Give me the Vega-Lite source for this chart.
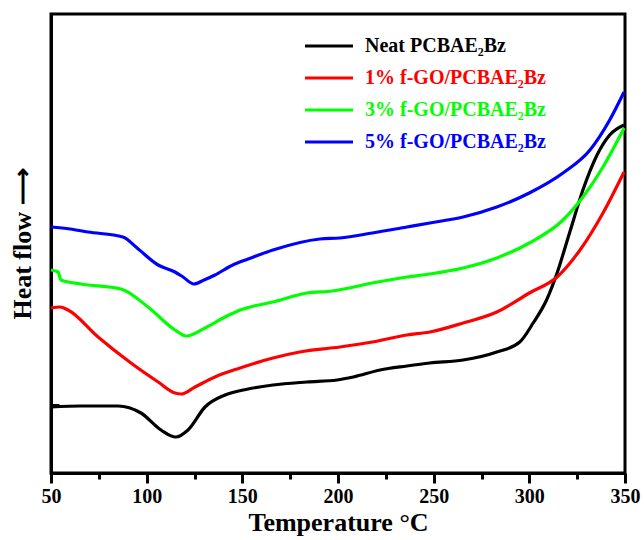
{
  "$schema": "https://vega.github.io/schema/vega-lite/v6.json",
  "autosize": "none",
  "padding": {"left": 51, "top": 14, "right": 19, "bottom": 67},
  "width": 574,
  "height": 459,
  "config": {
    "view": {"stroke": "black", "strokeWidth": 3},
    "font": "Liberation Serif"
  },
  "data": {
    "values": [
      {"s": "Neat PCBAE₂Bz", "T": 50, "v": 66},
      {"s": "Neat PCBAE₂Bz", "T": 65.7, "v": 67},
      {"s": "Neat PCBAE₂Bz", "T": 85, "v": 67},
      {"s": "Neat PCBAE₂Bz", "T": 97, "v": 60},
      {"s": "Neat PCBAE₂Bz", "T": 107.5, "v": 43},
      {"s": "Neat PCBAE₂Bz", "T": 115.3, "v": 36},
      {"s": "Neat PCBAE₂Bz", "T": 121.6, "v": 43},
      {"s": "Neat PCBAE₂Bz", "T": 130.5, "v": 66},
      {"s": "Neat PCBAE₂Bz", "T": 141, "v": 78},
      {"s": "Neat PCBAE₂Bz", "T": 153, "v": 84},
      {"s": "Neat PCBAE₂Bz", "T": 166, "v": 88},
      {"s": "Neat PCBAE₂Bz", "T": 183.8, "v": 91},
      {"s": "Neat PCBAE₂Bz", "T": 199.5, "v": 93},
      {"s": "Neat PCBAE₂Bz", "T": 208, "v": 96},
      {"s": "Neat PCBAE₂Bz", "T": 222, "v": 103},
      {"s": "Neat PCBAE₂Bz", "T": 236, "v": 107},
      {"s": "Neat PCBAE₂Bz", "T": 248, "v": 110},
      {"s": "Neat PCBAE₂Bz", "T": 265.4, "v": 113},
      {"s": "Neat PCBAE₂Bz", "T": 283, "v": 121},
      {"s": "Neat PCBAE₂Bz", "T": 295, "v": 131},
      {"s": "Neat PCBAE₂Bz", "T": 302, "v": 150},
      {"s": "Neat PCBAE₂Bz", "T": 309, "v": 173},
      {"s": "Neat PCBAE₂Bz", "T": 314.5, "v": 200},
      {"s": "Neat PCBAE₂Bz", "T": 321, "v": 240},
      {"s": "Neat PCBAE₂Bz", "T": 328, "v": 283},
      {"s": "Neat PCBAE₂Bz", "T": 335.4, "v": 318},
      {"s": "Neat PCBAE₂Bz", "T": 342, "v": 338},
      {"s": "Neat PCBAE₂Bz", "T": 349.5, "v": 348},

      {"s": "1% f-GO/PCBAE₂Bz", "T": 50, "v": 165},
      {"s": "1% f-GO/PCBAE₂Bz", "T": 54.7, "v": 166},
      {"s": "1% f-GO/PCBAE₂Bz", "T": 58.9, "v": 163},
      {"s": "1% f-GO/PCBAE₂Bz", "T": 74.6, "v": 136},
      {"s": "1% f-GO/PCBAE₂Bz", "T": 91.8, "v": 110},
      {"s": "1% f-GO/PCBAE₂Bz", "T": 106, "v": 91},
      {"s": "1% f-GO/PCBAE₂Bz", "T": 114.8, "v": 80},
      {"s": "1% f-GO/PCBAE₂Bz", "T": 118, "v": 79},
      {"s": "1% f-GO/PCBAE₂Bz", "T": 125.3, "v": 86},
      {"s": "1% f-GO/PCBAE₂Bz", "T": 135.7, "v": 96},
      {"s": "1% f-GO/PCBAE₂Bz", "T": 148.8, "v": 105},
      {"s": "1% f-GO/PCBAE₂Bz", "T": 166, "v": 115},
      {"s": "1% f-GO/PCBAE₂Bz", "T": 180, "v": 121},
      {"s": "1% f-GO/PCBAE₂Bz", "T": 201, "v": 126},
      {"s": "1% f-GO/PCBAE₂Bz", "T": 218, "v": 131},
      {"s": "1% f-GO/PCBAE₂Bz", "T": 236, "v": 138},
      {"s": "1% f-GO/PCBAE₂Bz", "T": 248, "v": 141},
      {"s": "1% f-GO/PCBAE₂Bz", "T": 265.4, "v": 150},
      {"s": "1% f-GO/PCBAE₂Bz", "T": 283, "v": 161},
      {"s": "1% f-GO/PCBAE₂Bz", "T": 300, "v": 180},
      {"s": "1% f-GO/PCBAE₂Bz", "T": 314.5, "v": 196},
      {"s": "1% f-GO/PCBAE₂Bz", "T": 326.5, "v": 223},
      {"s": "1% f-GO/PCBAE₂Bz", "T": 338.5, "v": 260},
      {"s": "1% f-GO/PCBAE₂Bz", "T": 349.5, "v": 301},

      {"s": "3% f-GO/PCBAE₂Bz", "T": 50, "v": 203},
      {"s": "3% f-GO/PCBAE₂Bz", "T": 53.7, "v": 201},
      {"s": "3% f-GO/PCBAE₂Bz", "T": 55.2, "v": 193},
      {"s": "3% f-GO/PCBAE₂Bz", "T": 65.7, "v": 189},
      {"s": "3% f-GO/PCBAE₂Bz", "T": 86.6, "v": 184},
      {"s": "3% f-GO/PCBAE₂Bz", "T": 100.7, "v": 166},
      {"s": "3% f-GO/PCBAE₂Bz", "T": 114.8, "v": 143},
      {"s": "3% f-GO/PCBAE₂Bz", "T": 120.6, "v": 137},
      {"s": "3% f-GO/PCBAE₂Bz", "T": 130.5, "v": 145},
      {"s": "3% f-GO/PCBAE₂Bz", "T": 141, "v": 156},
      {"s": "3% f-GO/PCBAE₂Bz", "T": 148.8, "v": 163},
      {"s": "3% f-GO/PCBAE₂Bz", "T": 166, "v": 171},
      {"s": "3% f-GO/PCBAE₂Bz", "T": 183.8, "v": 180},
      {"s": "3% f-GO/PCBAE₂Bz", "T": 197, "v": 182},
      {"s": "3% f-GO/PCBAE₂Bz", "T": 218, "v": 190},
      {"s": "3% f-GO/PCBAE₂Bz", "T": 236, "v": 196},
      {"s": "3% f-GO/PCBAE₂Bz", "T": 248, "v": 199},
      {"s": "3% f-GO/PCBAE₂Bz", "T": 265.4, "v": 205},
      {"s": "3% f-GO/PCBAE₂Bz", "T": 283, "v": 215},
      {"s": "3% f-GO/PCBAE₂Bz", "T": 300, "v": 230},
      {"s": "3% f-GO/PCBAE₂Bz", "T": 317.6, "v": 253},
      {"s": "3% f-GO/PCBAE₂Bz", "T": 328, "v": 276},
      {"s": "3% f-GO/PCBAE₂Bz", "T": 338.5, "v": 306},
      {"s": "3% f-GO/PCBAE₂Bz", "T": 349.5, "v": 345},

      {"s": "5% f-GO/PCBAE₂Bz", "T": 50, "v": 246},
      {"s": "5% f-GO/PCBAE₂Bz", "T": 60, "v": 244},
      {"s": "5% f-GO/PCBAE₂Bz", "T": 69.3, "v": 241},
      {"s": "5% f-GO/PCBAE₂Bz", "T": 87.6, "v": 236},
      {"s": "5% f-GO/PCBAE₂Bz", "T": 95, "v": 225},
      {"s": "5% f-GO/PCBAE₂Bz", "T": 106, "v": 208},
      {"s": "5% f-GO/PCBAE₂Bz", "T": 114.8, "v": 201},
      {"s": "5% f-GO/PCBAE₂Bz", "T": 119, "v": 196},
      {"s": "5% f-GO/PCBAE₂Bz", "T": 124.7, "v": 189},
      {"s": "5% f-GO/PCBAE₂Bz", "T": 130, "v": 193},
      {"s": "5% f-GO/PCBAE₂Bz", "T": 135.7, "v": 198},
      {"s": "5% f-GO/PCBAE₂Bz", "T": 145, "v": 208},
      {"s": "5% f-GO/PCBAE₂Bz", "T": 153, "v": 214},
      {"s": "5% f-GO/PCBAE₂Bz", "T": 166, "v": 223},
      {"s": "5% f-GO/PCBAE₂Bz", "T": 190.6, "v": 234},
      {"s": "5% f-GO/PCBAE₂Bz", "T": 201, "v": 235},
      {"s": "5% f-GO/PCBAE₂Bz", "T": 218, "v": 240},
      {"s": "5% f-GO/PCBAE₂Bz", "T": 236, "v": 246},
      {"s": "5% f-GO/PCBAE₂Bz", "T": 248, "v": 250},
      {"s": "5% f-GO/PCBAE₂Bz", "T": 265.4, "v": 256},
      {"s": "5% f-GO/PCBAE₂Bz", "T": 283, "v": 266},
      {"s": "5% f-GO/PCBAE₂Bz", "T": 300, "v": 280},
      {"s": "5% f-GO/PCBAE₂Bz", "T": 317.6, "v": 300},
      {"s": "5% f-GO/PCBAE₂Bz", "T": 331.7, "v": 323},
      {"s": "5% f-GO/PCBAE₂Bz", "T": 342, "v": 353},
      {"s": "5% f-GO/PCBAE₂Bz", "T": 349.5, "v": 381}
    ]
  },
  "mark": {"type": "line", "strokeWidth": 3.2, "interpolate": "monotone"},
  "encoding": {
    "x": {
      "field": "T",
      "type": "quantitative",
      "scale": {"domain": [50, 350], "nice": false, "zero": false},
      "axis": {
        "values": [50, 75, 100, 125, 150, 175, 200, 225, 250, 275, 300, 325, 350],
        "labelExpr": "datum.value % 50 == 0 ? datum.label : ''",
        "tickSize": {"condition": {"test": "datum.value % 50 == 0", "value": 10}, "value": 6},
        "tickWidth": 3,
        "tickColor": "black",
        "domainColor": "black",
        "domainWidth": 3,
        "grid": false,
        "labelFont": "Liberation Serif",
        "labelFontWeight": "bold",
        "labelFontSize": 20,
        "labelColor": "black",
        "labelPadding": 3,
        "labelFlush": false,
        "title": "Temperature °C",
        "titleFont": "Liberation Serif",
        "titleFontWeight": "bold",
        "titleFontSize": 26,
        "titleColor": "black",
        "titlePadding": 3
      }
    },
    "y": {
      "field": "v",
      "type": "quantitative",
      "scale": {"domain": [0, 459], "nice": false},
      "axis": {
        "values": [68],
        "labels": false,
        "tickSize": -8,
        "tickWidth": 3,
        "tickColor": "black",
        "domainColor": "black",
        "domainWidth": 3,
        "grid": false,
        "title": "Heat flow ⟶",
        "titleFont": "Liberation Serif",
        "titleFontWeight": "bold",
        "titleFontSize": 26,
        "titleColor": "black",
        "titlePadding": 14
      }
    },
    "color": {
      "field": "s",
      "type": "nominal",
      "scale": {
        "domain": ["Neat PCBAE₂Bz", "1% f-GO/PCBAE₂Bz", "3% f-GO/PCBAE₂Bz", "5% f-GO/PCBAE₂Bz"],
        "range": ["#000000", "#ff0000", "#00ff00", "#0000ff"]
      },
      "legend": {
        "title": null,
        "orient": "none",
        "legendX": 252,
        "legendY": 16,
        "symbolType": "stroke",
        "symbolSize": 2304,
        "symbolStrokeWidth": 3.2,
        "clipHeight": 32,
        "labelFont": "Liberation Serif",
        "labelFontWeight": "bold",
        "labelFontSize": 20,
        "labelColor": {"expr": "scale('color', datum.value)"},
        "labelOffset": 10,
        "labelLimit": 400,
        "rowPadding": 0
      }
    }
  }
}
